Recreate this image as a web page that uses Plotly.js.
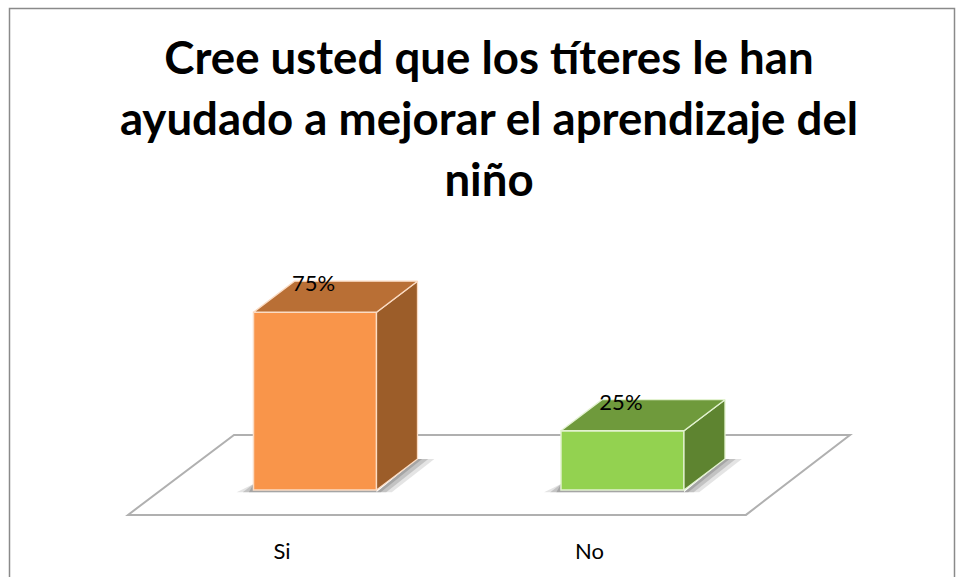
<!DOCTYPE html>
<html><head><meta charset="utf-8"><script src="https://cdn.plot.ly/plotly-3.0.1.min.js"></script>
<style>html,body{margin:0;padding:0;background:#fff}#c{width:956px;height:577px}</style></head>
<body><div id="c"></div><script>
const categories=['Si','No'];
const values=[75,25];
const labels=['75%','25%'];
const frontColors=['#F9954A','#93D250'];
const topColors=['#B96F35','#6F9A3C'];
const sideColors=['#9C5D29','#5E8430'];
const edgeColors=['#FBDCC4','#E2F2CF'];
const titleLines=['Cree usted que los títeres le han','ayudado a mejorar el aprendizaje del','niño'];
const xPos=[0,1];
const tickShift=0.107;
const barW=0.4, depthX=0.1333, depthY=13.1;
const floorY=[-10.5,23.2];
const floorX=[-0.608,1.4016,1.7398,-0.2634];
const traces=[];
xPos.forEach((x,i)=>{
  const l=x-barW/2,r=x+barW/2,v=values[i];
  traces.push({type:'scatter',mode:'lines',x:[r,r+depthX,r+depthX,r,r],y:[0,depthY,v+depthY,v,0],fill:'toself',fillcolor:sideColors[i],line:{color:edgeColors[i],width:1.3},hoverinfo:'skip'});
  traces.push({type:'scatter',mode:'lines',x:[l,l+depthX,r+depthX,r,l],y:[v,v+depthY,v+depthY,v,v],fill:'toself',fillcolor:topColors[i],line:{color:edgeColors[i],width:1.3},hoverinfo:'skip'});
});
traces.unshift({type:'bar',x:xPos,y:values,width:barW,marker:{color:frontColors,line:{color:edgeColors,width:1.5}},hoverinfo:'skip'});
traces.push({type:'scatter',mode:'text',x:xPos.map(x=>x-0.005),y:values.map(v=>v+11.2),text:labels,textposition:'middle center',textfont:{family:'Lato, Carlito, sans-serif',size:22,color:'#000'},hoverinfo:'skip'});
const shapes=[];
shapes.push({type:'rect',xref:'paper',yref:'paper',x0:9.5/956,x1:954.5/956,y0:(536-600)/306,y1:(536-8.5)/306,line:{color:'#8a8a8a',width:1.5},fillcolor:'rgba(0,0,0,0)',layer:'below'});
shapes.push({type:'path',layer:'below',path:`M ${floorX[0]} ${floorY[0]} L ${floorX[1]} ${floorY[0]} L ${floorX[2]} ${floorY[1]} L ${floorX[3]} ${floorY[1]} Z`,line:{color:'#B0B0B0',width:2},fillcolor:'#fff'});
xPos.forEach(x=>{
  const l=x-barW/2,r=x+barW/2;
  [[0.055,0.2],[0.035,0.3],[0.015,0.4]].forEach(([e,o])=>{
    shapes.push({type:'path',layer:'below',line:{width:0},fillcolor:`rgba(120,120,120,${o})`,
      path:`M ${r} -1 L ${r+depthX} ${depthY} L ${r+depthX+e} ${depthY} L ${r+e*0.9} -1 Z`});
    shapes.push({type:'path',layer:'below',line:{width:0},fillcolor:`rgba(120,120,120,${o})`,
      path:`M ${l} 2.5 L ${l-e} -1 L ${r} -1 L ${r} 0 L ${l} 0 Z`});
  });
});
const layout={width:956,height:577,showlegend:false,hovermode:false,
  paper_bgcolor:'#fff',plot_bgcolor:'rgba(0,0,0,0)',
  margin:{l:0,r:0,t:230,b:41,pad:0},
  title:{text:titleLines.map(s=>`<span style="font-size:45.6px">${s}</span>`).join('<br>'),
    font:{family:'Lato, Carlito, sans-serif',size:47,color:'#000',weight:700},
    x:0.5115,xanchor:'center',xref:'paper',y:0.872,yanchor:'top',yref:'container'},
  xaxis:{range:[-1.0244,2.0846],tickmode:'array',tickvals:xPos.map(x=>x-tickShift),ticktext:categories,showgrid:false,zeroline:false,showline:false,ticks:'',
    tickfont:{family:'Lato, Carlito, sans-serif',size:22,color:'#000'}},
  yaxis:{range:[-19.41,109.7],showgrid:false,zeroline:false,showline:false,showticklabels:false,ticks:''},
  shapes};
Plotly.newPlot('c',traces,layout,{staticPlot:true,displayModeBar:false});
</script></body></html>
